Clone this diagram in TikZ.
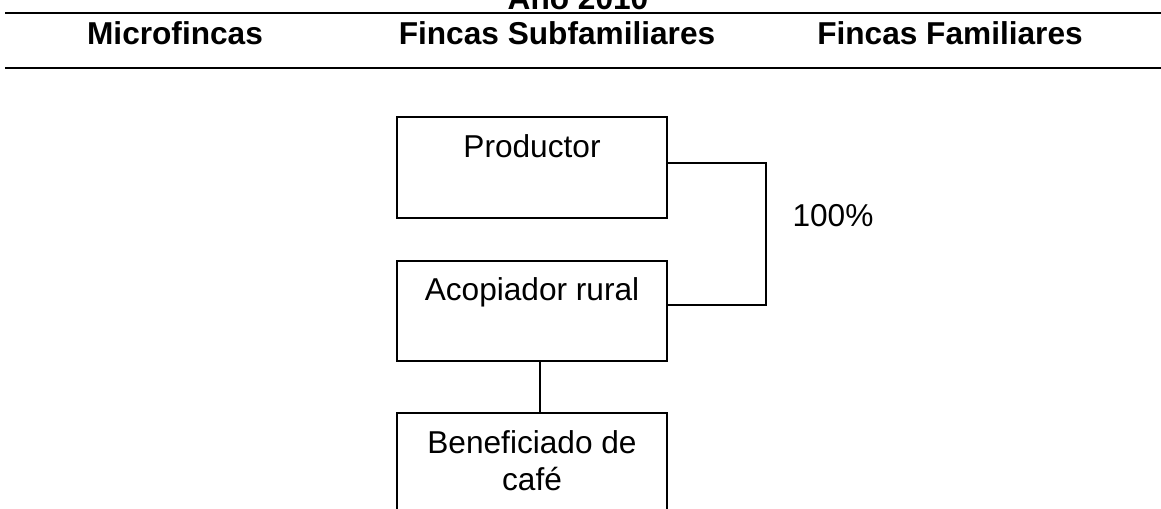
\documentclass[tikz,border=0pt]{standalone}
\usepackage{fontspec}
\setmainfont{Liberation Sans}
\usetikzlibrary{positioning}

\begin{document}
\begin{tikzpicture}[
		caja/.style={draw,line width=0.8pt,minimum width=5.4cm,inner sep=0pt},
		txt/.style={font=\fontsize{18}{21}\selectfont,align=center,anchor=base,inner sep=0pt},
		cab/.style={font=\bfseries\fontsize{18}{21}\selectfont,anchor=base,inner sep=0pt},
		regla/.style={line width=1pt}]
	\useasboundingbox (0,0) rectangle (23.22,-10.16);
	% encabezado
	\node [cab] (anio) at (11.56,-0.2) {Año 2010};
	\draw [regla] (0.1,-0.26) -- (23.22,-0.26);
	\node [cab] (micro) at (3.5,-0.88) {Microfincas};
	\node [cab] (subfam) at (11.14,-0.88) {Fincas Subfamiliares};
	\node [cab] (fam) at (19.0,-0.88) {Fincas Familiares};
	\draw [regla] (0.1,-1.36) -- (23.22,-1.36);
	% cajas
	\node [caja,minimum height=2.02cm] (prod) at (10.64,-3.35) {};
	\node [txt] (prodtxt) at (10.64,-3.14) {Productor};
	\node [caja,minimum height=2.0cm] (acop) at (10.64,-6.22) {};
	\node [txt] (acoptxt) at (10.64,-6.0) {Acopiador rural};
	\node [caja,minimum height=2.4cm] (benef) at (10.64,-9.46) {};
	\node [txt] (beneftxt) at (10.64,-9.8) {Beneficiado de\\café};
	% conectores
	\coordinate (codo) at (15.32,-4.7);
	\draw [line width=0.8pt] ([yshift=0.09cm]prod.east) -| (codo) |- ([yshift=0.12cm]acop.east);
	\node [txt] (pct) at (16.66,-4.52) {100\%};
	\draw [line width=0.8pt] ([xshift=0.16cm]acop.south) -- ([xshift=0.16cm]benef.north);
\end{tikzpicture}
\end{document}
